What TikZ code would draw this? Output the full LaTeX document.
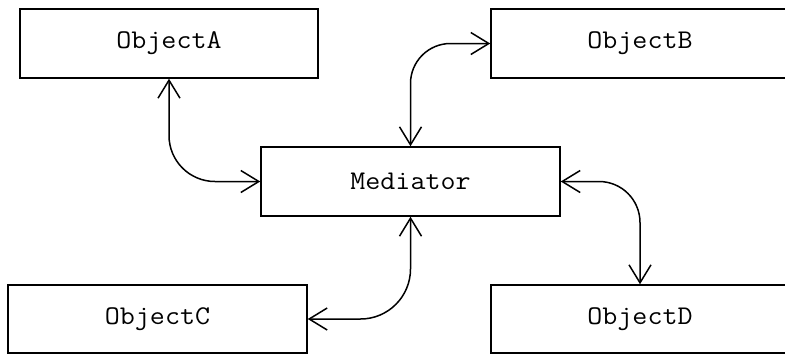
\documentclass[tikz,border=0pt]{standalone}
\usetikzlibrary{arrows.meta}
\newcommand{\objtext}[1]{\scalebox{1.08}[1]{#1}}
\begin{document}
\begin{tikzpicture}[x=1pt,y=-1pt,
  objbox/.style={draw,line width=1.5pt,inner sep=0pt,minimum width=298pt,minimum height=69pt,
    font=\ttfamily\fontsize{27}{30}\selectfont},
  link/.style={line width=1.5pt,{Straight Barb[length=18pt,width=22pt]}-{Straight Barb[length=18pt,width=22pt]}}]
\useasboundingbox (0,0) rectangle (785,357);
\clip (0,0) rectangle (785,357);
\node[objbox] (A) at (169,43.5) {\objtext{ObjectA}};
\node[objbox] (B) at (640,43.5) {\objtext{ObjectB}};
\node[objbox,minimum width=299pt] (M) at (410.5,181.5) {\objtext{Mediator}};
\node[objbox,minimum width=299pt,minimum height=68pt] (C) at (157.5,319) {\objtext{ObjectC}};
\node[objbox,minimum height=68pt] (D) at (640,319) {\objtext{ObjectD}};
\draw[link,rounded corners=46pt] (A.south) |- (M.west);
\draw[link,rounded corners=40pt] (M.north) |- (B.west);
\draw[link,rounded corners=41pt] (M.east) -| (D.north);
\draw[link,rounded corners=50pt] (M.south) |- (C.east);
\end{tikzpicture}
\end{document}
